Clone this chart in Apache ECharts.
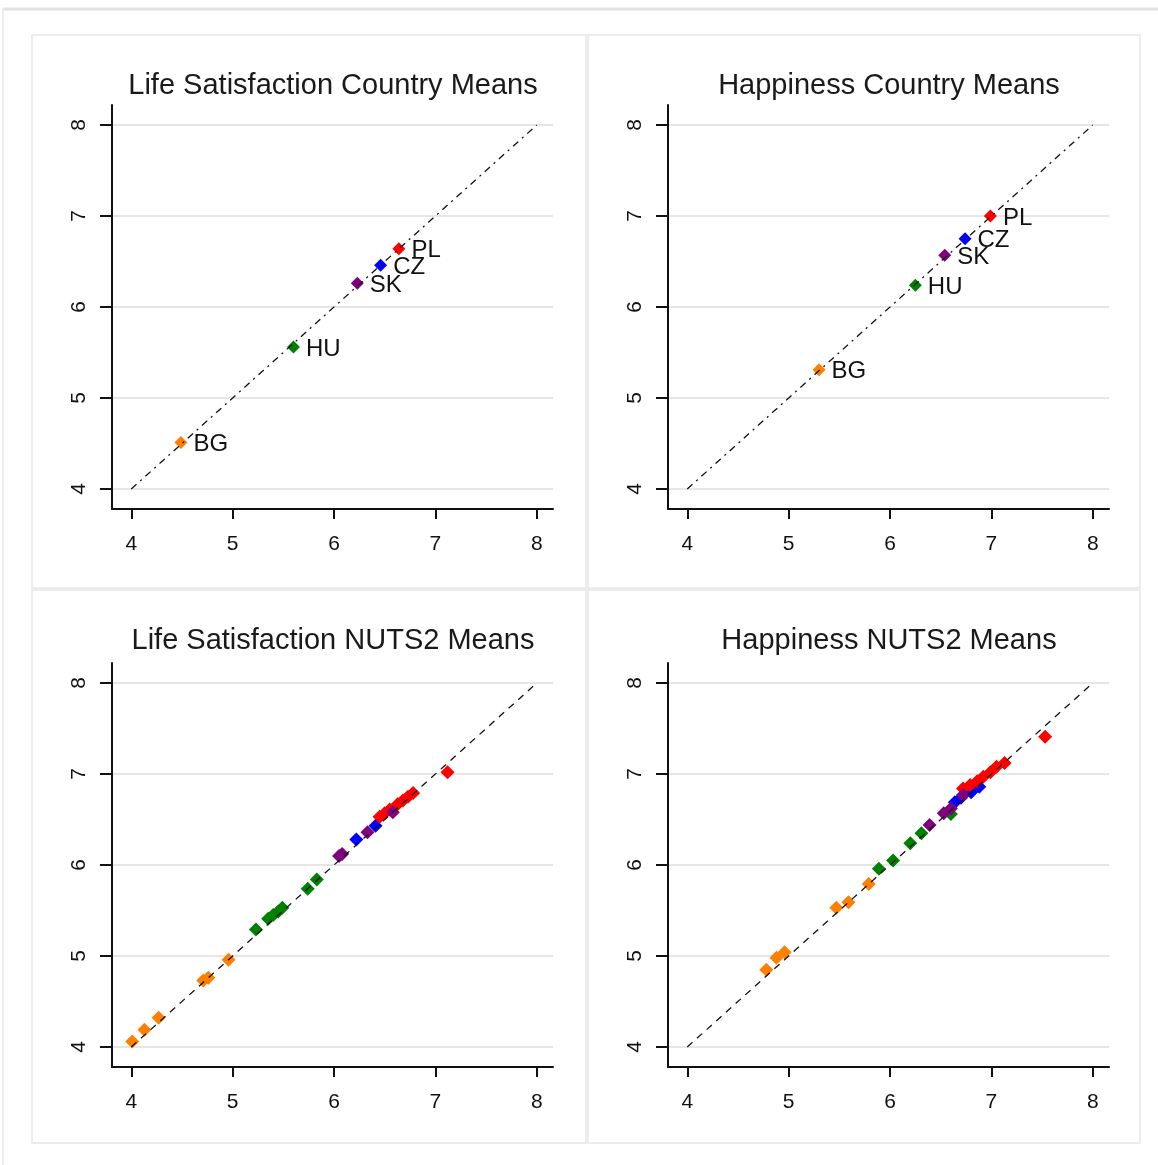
<!DOCTYPE html>
<html>
<head>
<meta charset="utf-8">
<script src="https://cdn.jsdelivr.net/npm/echarts@6/dist/echarts.min.js"></script>
<style>
  html, body { margin: 0; padding: 0; background: #fff; }
  #chart { width: 1158px; height: 1165px; }
</style>
</head>
<body>
<div id="chart"></div>
<script>
// panel titles
const titles = ['Life Satisfaction Country Means', 'Happiness Country Means',
  'Life Satisfaction NUTS2 Means', 'Happiness NUTS2 Means'];

// axis ticks (both axes, all panels)
const ticks = [4, 5, 6, 7, 8];
// 45 degree reference line runs from..to
const diagLine = [4, 8];

// country means (top row)
const countries = ['PL', 'CZ', 'SK', 'HU', 'BG'];
const lsCountryX = [6.64, 6.46, 6.23, 5.60, 4.49];
const lsCountryY = [6.64, 6.46, 6.26, 5.56, 4.51];
const hapCountryX = [6.99, 6.74, 6.54, 6.25, 5.30];
const hapCountryY = [7.00, 6.75, 6.57, 6.24, 5.31];

// NUTS2 region means (bottom row)
const lsNutsCountry = ['BG', 'BG', 'BG', 'BG', 'BG', 'BG',
  'HU', 'HU', 'HU', 'HU', 'HU', 'HU', 'HU',
  'SK', 'SK', 'SK', 'SK',
  'CZ', 'CZ',
  'PL', 'PL', 'PL', 'PL', 'PL', 'PL', 'PL', 'PL'];
const lsNutsX = [4.01, 4.13, 4.27, 4.71, 4.76, 4.96,
  5.23, 5.35, 5.40, 5.45, 5.49, 5.74, 5.83,
  6.05, 6.08, 6.33, 6.58,
  6.22, 6.41,
  6.45, 6.50, 6.55, 6.63, 6.68, 6.73, 6.78, 7.12];
const lsNutsY = [4.06, 4.19, 4.32, 4.73, 4.76, 4.96,
  5.29, 5.41, 5.45, 5.49, 5.53, 5.74, 5.84,
  6.10, 6.12, 6.36, 6.58,
  6.28, 6.43,
  6.53, 6.57, 6.61, 6.67, 6.71, 6.75, 6.79, 7.02];

const hapNutsCountry = ['BG', 'BG', 'BG', 'BG', 'BG', 'BG',
  'HU', 'HU', 'HU', 'HU', 'HU',
  'SK', 'SK', 'SK', 'SK',
  'CZ', 'CZ', 'CZ', 'CZ',
  'PL', 'PL', 'PL', 'PL', 'PL', 'PL', 'PL', 'PL'];
const hapNutsX = [4.78, 4.88, 4.96, 5.47, 5.59, 5.79,
  5.89, 6.03, 6.20, 6.31, 6.60,
  6.39, 6.53, 6.60, 6.72,
  6.64, 6.70, 6.80, 6.88,
  6.72, 6.79, 6.86, 6.92, 6.99, 7.05, 7.13, 7.53];
const hapNutsY = [4.85, 4.98, 5.04, 5.53, 5.59, 5.79,
  5.96, 6.05, 6.24, 6.35, 6.56,
  6.44, 6.57, 6.62, 6.77,
  6.69, 6.74, 6.80, 6.86,
  6.84, 6.88, 6.92, 6.97, 7.02, 7.08, 7.12, 7.41];

const colorOf = { BG: '#ff8000', CZ: '#0000ff', HU: '#008000', PL: '#ff0000', SK: '#800080' };
const drawOrder = ['BG', 'CZ', 'HU', 'PL', 'SK'];

const panels = [
  { left: 112, top: 105, cx: 328, titleTop: 66 },
  { left: 668, top: 105, cx: 884, titleTop: 66 },
  { left: 112, top: 663, cx: 328, titleTop: 621 },
  { left: 668, top: 663, cx: 884, titleTop: 621 }
];
const plotW = 441, plotH = 404;
const textColor = '#111';
const font = '"Liberation Sans", Arial, sans-serif';

function axisBase(kind) {
  return {
    type: 'value',
    min: kind === 'x' ? 3.81 : 3.78,
    max: kind === 'x' ? 8.16 : 8.22,
    axisLine: { show: true, onZero: false, lineStyle: { color: '#111', width: 2 } },
    axisTick: { show: true, customValues: ticks, length: kind === 'x' ? 10 : 12,
      lineStyle: { color: '#111', width: 2 } },
    axisLabel: { customValues: ticks, color: textColor, fontFamily: font, fontSize: 21,
      margin: kind === 'x' ? 25 : 22, rotate: kind === 'x' ? 0 : 90 },
    splitLine: { show: kind === 'y', lineStyle: { color: '#e6e6e6', width: 2 } }
  };
}

const grid = [], xAxis = [], yAxis = [], series = [], title = [];
panels.forEach((p, i) => {
  grid.push({ left: p.left, top: p.top, width: plotW, height: plotH });
  xAxis.push(Object.assign(axisBase('x'), { gridIndex: i }));
  yAxis.push(Object.assign(axisBase('y'), { gridIndex: i }));
  title.push({ text: titles[i], left: p.cx, top: p.titleTop, textAlign: 'center',
    textStyle: { color: '#1a1a1a', fontFamily: font, fontSize: 29, fontWeight: 'normal' } });
});

// top row: labelled country means
function countryPanel(idx, xs, ys) {
  drawOrder.forEach(c => {
    const k = countries.indexOf(c);
    series.push({
      type: 'scatter', xAxisIndex: idx, yAxisIndex: idx,
      symbol: 'diamond', symbolSize: 13,
      itemStyle: { color: colorOf[c], opacity: 1 },
      label: { show: true, position: 'right', distance: 6, offset: [0, 2], formatter: c,
        color: textColor, fontFamily: font, fontSize: 24 },
      data: [[xs[k], ys[k]]]
    });
  });
}
// bottom row: NUTS2 means, one series per country
function nutsPanel(idx, cs, xs, ys) {
  drawOrder.forEach(c => {
    const pts = [];
    cs.forEach((cc, j) => { if (cc === c) pts.push([xs[j], ys[j]]); });
    series.push({
      type: 'scatter', xAxisIndex: idx, yAxisIndex: idx,
      symbol: 'diamond', symbolSize: 14,
      itemStyle: { color: colorOf[c], opacity: 1 },
      data: pts
    });
  });
}
countryPanel(0, lsCountryX, lsCountryY);
countryPanel(1, hapCountryX, hapCountryY);
nutsPanel(2, lsNutsCountry, lsNutsX, lsNutsY);
nutsPanel(3, hapNutsCountry, hapNutsX, hapNutsY);

[0, 1, 2, 3].forEach(i => {
  series.push({
    type: 'line', xAxisIndex: i, yAxisIndex: i, z: 5,
    symbol: 'none', silent: true,
    lineStyle: { color: '#111', width: 1.3, type: i < 2 ? [7, 5, 2, 5] : [7, 6] },
    data: [[diagLine[0], diagLine[0]], [diagLine[1], diagLine[1]]]
  });
});

// frames of the combined graph
const frame = { stroke: '#ececec', lineWidth: 2, fill: null };
const graphic = [
  { type: 'line', shape: { x1: 3, y1: 9, x2: 1158, y2: 9 }, style: { stroke: '#e3e3e3', lineWidth: 3 } },
  { type: 'line', shape: { x1: 3, y1: 8, x2: 3, y2: 1165 }, style: { stroke: '#eeeeee', lineWidth: 2 } },
  { type: 'rect', shape: { x: 32, y: 35, width: 554, height: 553 }, style: frame },
  { type: 'rect', shape: { x: 588, y: 35, width: 552, height: 553 }, style: frame },
  { type: 'rect', shape: { x: 32, y: 590, width: 554, height: 553 }, style: frame },
  { type: 'rect', shape: { x: 588, y: 590, width: 552, height: 553 }, style: frame }
];

const chart = echarts.init(document.getElementById('chart'));
chart.setOption({
  backgroundColor: '#ffffff',
  animation: false,
  title, grid, xAxis, yAxis, series, graphic
});
</script>
</body>
</html>
